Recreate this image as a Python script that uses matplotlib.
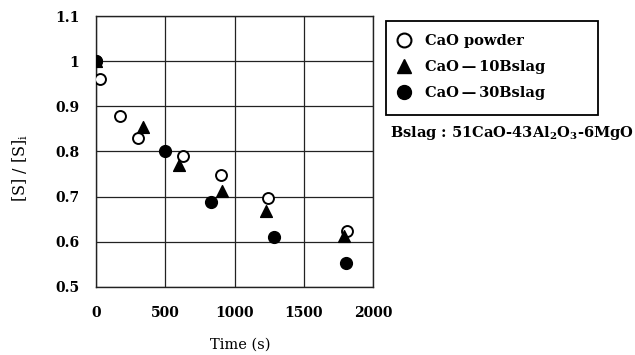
import matplotlib
matplotlib.use('Agg')
import matplotlib.pyplot as plt
from matplotlib.lines import Line2D
from matplotlib.patches import Rectangle

plt.rcParams['font.family'] = ['DejaVu Serif']
plt.rcParams['font.weight'] = 'bold'
plt.rcParams['mathtext.fontset'] = 'dejavuserif'
plt.rcParams['mathtext.default'] = 'bf'

# CaO powder
t_powder = [0, 30, 175, 305, 630, 900, 1240, 1815]
s_powder = [1.0, 0.96, 0.879, 0.83, 0.789, 0.749, 0.696, 0.624]
# CaO-10Bslag
t_10 = [0, 342, 600, 912, 1225, 1790]
s_10 = [1.0, 0.854, 0.770, 0.713, 0.668, 0.613]
# CaO-30Bslag
t_30 = [0, 498, 832, 1285, 1805]
s_30 = [1.0, 0.801, 0.688, 0.611, 0.554]

labels = ['CaO powder', 'CaO\u2009\u2014\u200910Bslag', 'CaO\u2009\u2014\u200930Bslag']

W, H = 635, 355
fig = plt.figure(figsize=(6.35, 3.55), dpi=100)
ax = fig.add_axes([96 / W, 1 - 287 / H, 277 / W, 271 / H])

ax.scatter(t_powder, s_powder, s=62, facecolors='white', edgecolors='black', linewidths=1.4, zorder=3)
ax.scatter(t_10, s_10, s=72, marker='^', color='black', zorder=4)
ax.scatter(t_30, s_30, s=72, marker='o', color='black', zorder=5)

ax.set_xlim(0, 2000)
ax.set_ylim(0.5, 1.1)
ax.set_xticks([0, 500, 1000, 1500, 2000])
ax.set_yticks([0.5, 0.6, 0.7, 0.8, 0.9, 1.0, 1.1])
ax.set_yticklabels(['0.5', '0.6', '0.7', '0.8', '0.9', '1', '1.1'])
ax.tick_params(length=0, labelsize=10)
ax.tick_params(axis='x', pad=14)
ax.tick_params(axis='y', pad=12)
ax.grid(True, color='#222222', linewidth=0.9)
ax.set_axisbelow(True)
for sp in ax.spines.values():
    sp.set_linewidth(1.0)
    sp.set_color('#222222')

ax.set_xlabel('Time (s)', fontsize=10.5, va='top')
ax.xaxis.set_label_coords(0.52, -0.188)
ax.set_ylabel('[S] / [S]$_\\mathregular{i}$', fontsize=11.5)
ax.yaxis.set_label_coords(-0.24, 0.44)

handles = [
    Line2D([], [], marker='o', linestyle='none', markerfacecolor='white', markeredgecolor='black', markersize=10, markeredgewidth=1.5),
    Line2D([], [], marker='^', linestyle='none', color='black', markersize=10),
    Line2D([], [], marker='o', linestyle='none', color='black', markersize=10),
]
leg = fig.legend(handles, labels, loc='upper left', bbox_to_anchor=(397 / W, 1 - 34 / H),
                 frameon=False, fontsize=10.5, handletextpad=0.95, handlelength=0.95,
                 labelspacing=0.82, borderpad=0, borderaxespad=0)

fig.patches.append(Rectangle((386 / W, 1 - 115 / H), 212 / W, 94 / H, transform=fig.transFigure,
                             fill=False, edgecolor='black', linewidth=1.3))

fig.text(390 / W, 1 - 133 / H, 'Bslag : 51CaO-43Al$_2$O$_3$-6MgO', fontsize=10.5, va='center')

fig.savefig('out.png', dpi=100)
plt.close(fig)
